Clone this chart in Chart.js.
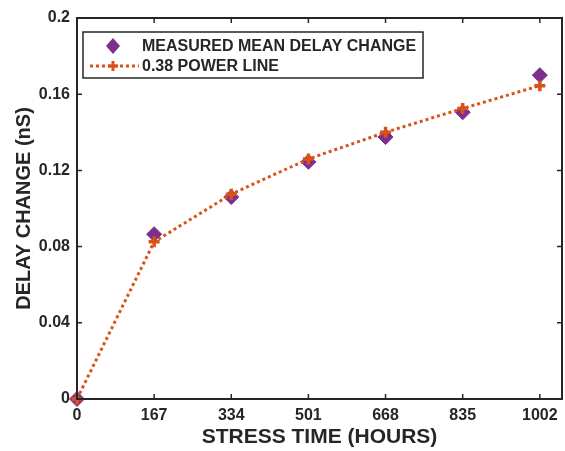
<!DOCTYPE html>
<html>
<head>
<meta charset="utf-8">
<script src="https://cdn.jsdelivr.net/npm/chart.js@4.4.1/dist/chart.umd.min.js"></script>
<style>
  html, body { margin: 0; padding: 0; background: #fff; }
  #wrap { width: 565px; height: 451px; }
</style>
</head>
<body>
<div id="wrap"><canvas id="myChart" width="565" height="451"></canvas></div>
<script>
// data
const hours = [0, 167, 334, 501, 668, 835, 1002];
const measured = [0, 0.0865, 0.106, 0.1245, 0.1375, 0.1505, 0.170];
const powerLine = [0, 0.0825, 0.1075, 0.126, 0.140, 0.1525, 0.1645];
const yTicks = [0, 0.04, 0.08, 0.12, 0.16, 0.2];

const axisColor = "#262626";
const purple = "#7E2F8E";
const orange = "#D95319";
const fontFamily = "'Liberation Sans', Arial, sans-serif";

// box round the plot with inward tick marks on all four sides
const boxPlugin = {
  id: "box",
  afterDatasetsDraw(chart) {
    const { ctx, chartArea: a, scales } = chart;
    ctx.save();
    ctx.strokeStyle = axisColor;
    ctx.lineWidth = 2;
    ctx.strokeRect(a.left, a.top, a.right - a.left, a.bottom - a.top);
    const len = 5;
    ctx.lineWidth = 1.5;
    ctx.beginPath();
    scales.x.ticks.forEach(t => {
      const px = scales.x.getPixelForValue(t.value);
      ctx.moveTo(px, a.bottom); ctx.lineTo(px, a.bottom - len);
      ctx.moveTo(px, a.top); ctx.lineTo(px, a.top + len);
    });
    scales.y.ticks.forEach(t => {
      const py = scales.y.getPixelForValue(t.value);
      ctx.moveTo(a.left, py); ctx.lineTo(a.left + len, py);
      ctx.moveTo(a.right, py); ctx.lineTo(a.right - len, py);
    });
    ctx.stroke();
    ctx.restore();
  }
};

// legend box inside the plot, top left
const legendPlugin = {
  id: "insideLegend",
  afterDraw(chart) {
    const { ctx, chartArea: a } = chart;
    const x0 = a.left + 6, y0 = a.top + 14, w = 340, h = 46;
    ctx.save();
    ctx.fillStyle = "#fff";
    ctx.fillRect(x0, y0, w, h);
    ctx.strokeStyle = axisColor;
    ctx.lineWidth = 1.5;
    ctx.strokeRect(x0, y0, w, h);

    const symX = x0 + 30, textX = x0 + 59;
    const row1 = y0 + 14, row2 = y0 + 34;
    // diamond
    ctx.fillStyle = purple;
    ctx.beginPath();
    ctx.moveTo(symX, row1 - 8); ctx.lineTo(symX + 7, row1);
    ctx.lineTo(symX, row1 + 8); ctx.lineTo(symX - 7, row1);
    ctx.closePath();
    ctx.fill();
    // dotted line with plus
    ctx.strokeStyle = orange;
    ctx.lineWidth = 3;
    ctx.setLineDash([3, 3]);
    ctx.beginPath();
    ctx.moveTo(x0 + 7, row2); ctx.lineTo(x0 + 56, row2);
    ctx.stroke();
    ctx.setLineDash([]);
    ctx.beginPath();
    ctx.moveTo(symX - 5, row2); ctx.lineTo(symX + 5, row2);
    ctx.moveTo(symX, row2 - 5); ctx.lineTo(symX, row2 + 5);
    ctx.stroke();

    ctx.fillStyle = axisColor;
    ctx.font = "bold 16px " + fontFamily;
    ctx.textBaseline = "middle";
    ctx.fillText(chart.data.datasets[1].label, textX, row1 + 1);
    ctx.fillText(chart.data.datasets[0].label, textX, row2 + 1);
    ctx.restore();
  }
};

new Chart(document.getElementById("myChart").getContext("2d"), {
  type: "line",
  data: {
    datasets: [
      {
        label: "0.38 POWER LINE",
        data: hours.map((h, i) => ({ x: h, y: powerLine[i] })),
        borderColor: orange,
        backgroundColor: orange,
        borderWidth: 3,
        borderDash: [3, 3],
        pointStyle: "cross",
        pointRadius: 5.5,
        pointBorderWidth: 3.5,
        tension: 0,
        clip: false,
        order: 0
      },
      {
        label: "MEASURED MEAN DELAY CHANGE",
        data: hours.map((h, i) => ({ x: h, y: measured[i] })),
        showLine: false,
        borderColor: purple,
        backgroundColor: purple,
        pointStyle: "rectRot",
        pointRadius: 7.5,
        pointBorderWidth: 1,
        clip: false,
        order: 1
      }
    ]
  },
  options: {
    responsive: false,
    animation: false,
    layout: { autoPadding: false, padding: { left: 0, right: 3, top: 18, bottom: 0 } },
    plugins: {
      legend: { display: false },
      tooltip: { enabled: false }
    },
    scales: {
      x: {
        type: "linear",
        min: 0,
        max: 1050,
        afterBuildTicks: scale => { scale.ticks = hours.map(v => ({ value: v })); },
        afterFit: scale => {
          scale.height = 52;
          scale.paddingLeft = 0;
          scale.paddingRight = 0;
        },
        grid: { display: false, drawTicks: false },
        border: { display: false },
        ticks: {
          color: axisColor,
          padding: 7,
          maxRotation: 0,
          font: { family: fontFamily, size: 16, weight: "bold" },
          callback: v => String(v)
        },
        title: {
          display: true,
          text: "STRESS TIME (HOURS)",
          color: axisColor,
          padding: { top: 0, bottom: 1 },
          font: { family: fontFamily, size: 21, weight: "bold" }
        }
      },
      y: {
        min: 0,
        max: 0.2,
        afterBuildTicks: scale => { scale.ticks = yTicks.map(v => ({ value: v })); },
        afterFit: scale => {
          scale.width = 77;
          scale.paddingTop = 0;
          scale.paddingBottom = 0;
        },
        grid: { display: false, drawTicks: false },
        border: { display: false },
        ticks: {
          color: axisColor,
          padding: 7,
          font: { family: fontFamily, size: 16, weight: "bold" },
          callback: v => String(Math.round(v * 100) / 100)
        },
        title: {
          display: true,
          text: "DELAY CHANGE (nS)",
          color: axisColor,
          padding: { top: 12, bottom: 0 },
          font: { family: fontFamily, size: 20, weight: "bold" }
        }
      }
    }
  },
  plugins: [boxPlugin, legendPlugin]
});
</script>
</body>
</html>
